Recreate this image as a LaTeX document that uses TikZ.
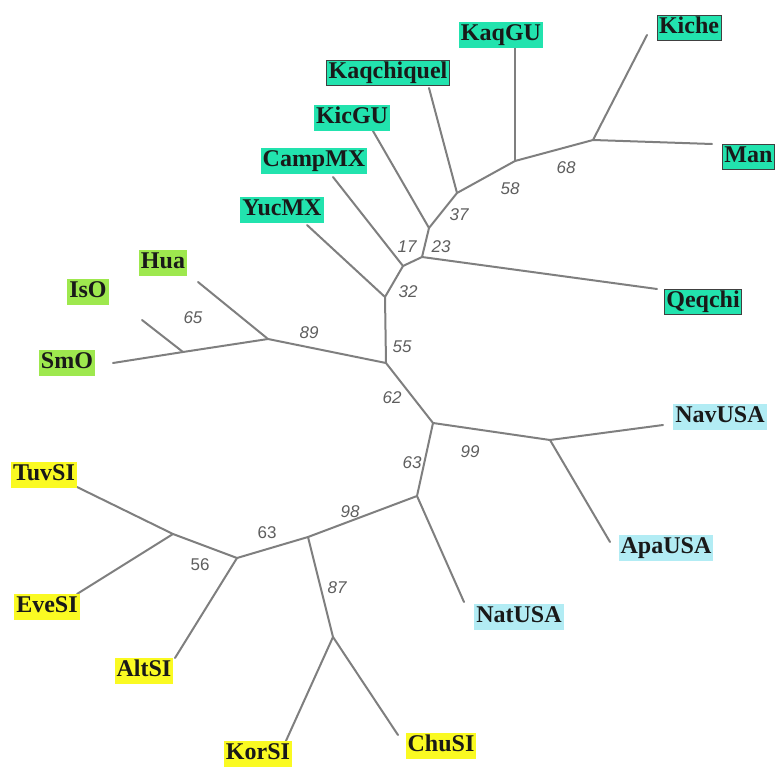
\documentclass[tikz,border=0pt]{standalone}
\usepackage{fontspec}
\setmainfont{Liberation Serif}
\newfontfamily\numfont{Liberation Sans}
\definecolor{mayateal}{HTML}{22E3AE}
\definecolor{otogreen}{HTML}{9EE84E}
\definecolor{athblue}{HTML}{B2ECF4}
\definecolor{sibyellow}{HTML}{FAFA22}
\definecolor{branchgray}{HTML}{7F7F7F}
\definecolor{bootgray}{HTML}{5E5E5E}
\tikzset{
  leaf/.style={font=\bfseries\fontsize{24}{24}\selectfont, text=black!90,
    inner xsep=2pt, inner ysep=2pt, text height=16.5pt, text depth=5pt},
  maya/.style={leaf, fill=mayateal},
  mayaframed/.style={maya, draw=black!75, line width=0.9pt},
  oto/.style={leaf, fill=otogreen},
  ath/.style={leaf, fill=athblue},
  sib/.style={leaf, fill=sibyellow},
  boot/.style={font=\numfont\itshape\fontsize{17}{17}\selectfont, text=bootgray, inner sep=0pt},
  bootup/.style={font=\numfont\fontsize{17}{17}\selectfont, text=bootgray, inner sep=0pt},
  branch/.style={draw=branchgray, line width=2pt, line cap=round, line join=round}
}
\begin{document}
\begin{tikzpicture}[x=1pt, y=-1pt]
\useasboundingbox (0,0) rectangle (776,767);

% internal vertices
\coordinate (A) at (386,363);
\coordinate (B) at (385,297);
\coordinate (C) at (403,266);
\coordinate (D) at (422,257);
\coordinate (F) at (429,228);
\coordinate (E) at (457,193);
\coordinate (G) at (515,161);
\coordinate (H) at (593,140);
\coordinate (J) at (268,339);
\coordinate (K) at (183,352);
\coordinate (I) at (433,423);
\coordinate (L) at (550,440);
\coordinate (M) at (417,496);
\coordinate (N) at (308,537);
\coordinate (O) at (333,637);
\coordinate (P) at (237,558);
\coordinate (Q) at (173,534);

% branch tips
\coordinate (tYuc) at (307,225);
\coordinate (tCamp) at (333,177);
\coordinate (tKic) at (373,131);
\coordinate (tKaqc) at (429,88);
\coordinate (tKaqGU) at (515,48);
\coordinate (tKiche) at (647,35);
\coordinate (tMan) at (712,144);
\coordinate (tQeq) at (657,289);
\coordinate (tHua) at (198,282);
\coordinate (tIsO) at (142,320);
\coordinate (tSmO) at (113,363);
\coordinate (tNav) at (663,425);
\coordinate (tApa) at (610,542);
\coordinate (tNat) at (464,602);
\coordinate (tChu) at (398,735);
\coordinate (tKor) at (285,743);
\coordinate (tAlt) at (175,658);
\coordinate (tEve) at (77,594);
\coordinate (tTuv) at (77,487);

% Mayan clade
\draw[branch] (A) -- (B) -- (C) -- (D) -- (F) -- (E) -- (G) -- (H);
\draw[branch] (B) -- (tYuc);
\draw[branch] (C) -- (tCamp);
\draw[branch] (D) -- (tQeq);
\draw[branch] (F) -- (tKic);
\draw[branch] (E) -- (tKaqc);
\draw[branch] (G) -- (tKaqGU);
\draw[branch] (H) -- (tKiche);
\draw[branch] (H) -- (tMan);
% Oto-Manguean clade
\draw[branch] (A) -- (J) -- (K);
\draw[branch] (J) -- (tHua);
\draw[branch] (K) -- (tIsO);
\draw[branch] (K) -- (tSmO);
% Athabaskan and Siberian clades
\draw[branch] (A) -- (I) -- (L);
\draw[branch] (L) -- (tNav);
\draw[branch] (L) -- (tApa);
\draw[branch] (I) -- (M) -- (tNat);
\draw[branch] (M) -- (N) -- (O);
\draw[branch] (O) -- (tChu);
\draw[branch] (O) -- (tKor);
\draw[branch] (N) -- (P) -- (Q);
\draw[branch] (Q) -- (tTuv);
\draw[branch] (Q) -- (tEve);
\draw[branch] (P) -- (tAlt);

% bootstrap values
\node[boot] (b32) at (408,292) {32};
\node[boot] (b17) at (407,247) {17};
\node[boot] (b23) at (441,247) {23};
\node[boot] (b37) at (459,215) {37};
\node[boot] (b58) at (510,189) {58};
\node[boot] (b68) at (566,168) {68};
\node[boot] (b55) at (402,347) {55};
\node[boot] (b62) at (392,398) {62};
\node[boot] (b89) at (309,333) {89};
\node[boot] (b65) at (193,318) {65};
\node[boot] (b99) at (470,452) {99};
\node[boot] (b63a) at (412,463) {63};
\node[boot] (b98) at (350,512) {98};
\node[boot] (b87) at (337,588) {87};
\node[bootup] (b63b) at (267,533) {63};
\node[bootup] (b56) at (200,565) {56};

% taxon labels
\node[maya] (YucMX) at (282,210) {YucMX};
\node[maya] (CampMX) at (314,161) {CampMX};
\node[maya] (KicGU) at (352,118) {KicGU};
\node[mayaframed] (Kaqchiquel) at (388,73) {Kaqchiquel};
\node[maya] (KaqGU) at (501,35) {KaqGU};
\node[mayaframed] (Kiche) at (689,28) {Kiche};
\node[mayaframed, anchor=west] (Man) at (722,157) {Man};
\node[mayaframed] (Qeqchi) at (703,302) {Qeqchi};
\node[oto] (Hua) at (163,263) {Hua};
\node[oto] (IsO) at (88,292) {IsO};
\node[oto] (SmO) at (67,363) {SmO};
\node[ath] (NavUSA) at (720,417) {NavUSA};
\node[ath] (ApaUSA) at (666,548) {ApaUSA};
\node[ath] (NatUSA) at (519,617) {NatUSA};
\node[sib] (ChuSI) at (441,746) {ChuSI};
\node[sib] (KorSI) at (258,754) {KorSI};
\node[sib] (AltSI) at (144,671) {AltSI};
\node[sib] (EveSI) at (47,607) {EveSI};
\node[sib] (TuvSI) at (44,475) {TuvSI};
\end{tikzpicture}
\end{document}
